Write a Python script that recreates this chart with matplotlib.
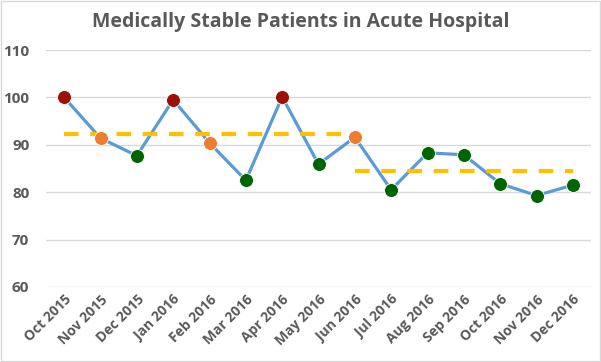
import matplotlib
matplotlib.use("Agg")
import matplotlib.pyplot as plt
from matplotlib.patches import Rectangle

months = ["Oct 2015", "Nov 2015", "Dec 2015", "Jan 2016", "Feb 2016", "Mar 2016",
          "Apr 2016", "May 2016", "Jun 2016", "Jul 2016", "Aug 2016", "Sep 2016",
          "Oct 2016", "Nov 2016", "Dec 2016"]
values = [100.0, 91.4, 87.7, 99.5, 90.4, 82.5, 100.1, 85.9, 91.6,
          80.5, 88.3, 87.9, 81.8, 79.3, 81.5]
status = ["red", "orange", "green", "red", "orange", "green", "red", "green", "orange",
          "green", "green", "green", "green", "green", "green"]
mean1_range = (0, 8)
mean1_value = 92.3
mean2_range = (8, 14)
mean2_value = 84.5
yticks = [60, 70, 80, 90, 100, 110]

colors = {"red": "#9C1006", "orange": "#ED7D31", "green": "#006400"}
grey = "#595959"
font = ["Open Sans", "DejaVu Sans"]
plt.rcParams["font.family"] = font

fig = plt.figure(figsize=(6.01, 3.62), dpi=100)
ax = fig.add_axes([46/601, 1-287/362, 545/601, 237/362])

x = list(range(len(months)))
ax.plot(x, values, color="#5B9BD5", lw=2.3, zorder=2)
for xi, v, s in zip(x, values, status):
    ax.plot(xi, v, "o", color=colors[s], ms=10, mec="white", mew=0.6, zorder=4)

ax.plot(list(mean1_range), [mean1_value]*2, color="#FFC000", lw=3, dashes=(3.5, 2.8), zorder=3)
ax.plot(list(mean2_range), [mean2_value]*2, color="#FFC000", lw=3, dashes=(3.5, 2.8), zorder=3)

ax.set_xlim(-0.5, len(months)-0.5)
ax.set_ylim(60, 110)
ax.set_yticks(yticks)
ax.set_yticklabels([str(t) for t in yticks], fontsize=11, color=grey, fontweight="bold")
ax.set_xticks(x)
ax.set_xticklabels(months, rotation=45, ha="right", rotation_mode="anchor",
                   fontsize=10, color=grey, fontweight="bold")
ax.grid(axis="y", color="#D9D9D9", lw=1)
ax.set_axisbelow(True)
for sp in ax.spines.values():
    sp.set_visible(False)
ax.tick_params(length=0)
ax.tick_params(axis="y", pad=12)
ax.tick_params(axis="x", pad=4)

fig.text(0.5, 1-22/362, "Medically Stable Patients in Acute Hospital", ha="center", va="center",
         fontsize=14, fontweight="bold", color=grey)
fig.patches.append(Rectangle((0.001, 0.002), 0.997, 0.996, transform=fig.transFigure,
                             fill=False, edgecolor="#D9D9D9", lw=1))
fig.savefig("out.png", dpi=100)
